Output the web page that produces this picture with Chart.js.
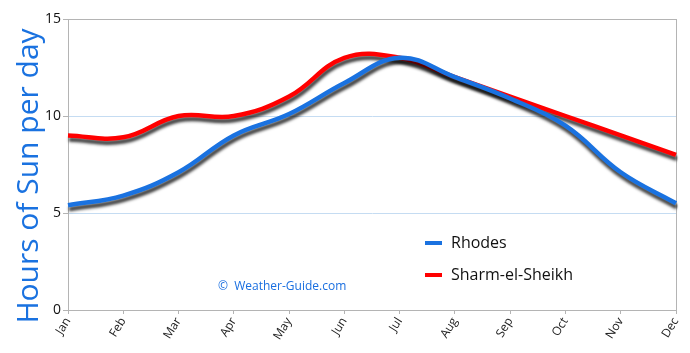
<!DOCTYPE html>
<html>
<head>
<meta charset="utf-8">
<script src="https://cdn.jsdelivr.net/npm/chart.js@4"></script>
<style>
  html, body { margin: 0; padding: 0; background: #fff; }
  #wrap { width: 690px; height: 353px; position: relative; }
</style>
</head>
<body>
<div id="wrap"><canvas id="sun-chart"></canvas></div>
<script>
// Dữ liệu
var months = ["Jan", "Feb", "Mar", "Apr", "May", "Jun", "Jul", "Aug", "Sep", "Oct", "Nov", "Dec"];
var rhodes = [5.4, 5.9, 7.1, 9.0, 10.1, 11.7, 13.0, 12.0, 10.9, 9.5, 7.1, 5.5];
var sharm = [9.0, 8.9, 10.0, 10.0, 11.0, 13.0, 13.0, 12.0, 11.0, 10.0, 9.0, 8.0];
var yTicks = [0, 5, 10, 15];
var yTitle = "Hours of Sun per day";

var fontName = "'Open Sans', sans-serif";
var axisGray = "#b4b4b4";

// khung xám quanh vùng vẽ
var framePlugin = {
  id: "frame",
  beforeDatasetsDraw: function (chart) {
    var a = chart.chartArea;
    var c = chart.ctx;
    c.save();
    c.strokeStyle = axisGray;
    c.lineWidth = 1;
    c.strokeRect(Math.round(a.left) + 0.5, Math.round(a.top) + 0.5,
      Math.round(a.right - a.left), Math.round(a.bottom - a.top));
    c.restore();
  },
};

// bóng đổ dưới mỗi đường
var shadowPlugin = {
  id: "shadow",
  beforeDatasetDraw: function (chart) {
    var c = chart.ctx;
    c.save();
    c.shadowColor = "rgba(0,0,0,0.75)";
    c.shadowBlur = 3;
    c.shadowOffsetX = 1;
    c.shadowOffsetY = 4;
  },
  afterDatasetDraw: function (chart) {
    chart.ctx.restore();
  },
};

// tiêu đề trục y, chú thích + watermark
var overlayPlugin = {
  id: "overlay",
  afterDraw: function (chart) {
    var c = chart.ctx;
    c.save();
    c.translate(29, 176);
    c.rotate(-Math.PI / 2);
    c.textAlign = "center";
    c.textBaseline = "middle";
    c.fillStyle = "#1a72e0";
    c.font = "30px " + fontName;
    c.fillText(yTitle, 0, 0);
    c.restore();

    c.save();
    c.textBaseline = "middle";
    c.font = "16px " + fontName;
    chart.data.datasets.forEach(function (ds, i) {
      var y = 243 + i * 32;
      c.fillStyle = ds.borderColor;
      c.fillRect(425, y - 2, 17, 4);
      c.fillStyle = "#111";
      c.fillText(ds.label, 451, y);
    });
    c.fillStyle = "#1a6fe0";
    c.font = "12px " + fontName;
    c.fillText("\u00A9  Weather-Guide.com", 218, 287);
    c.restore();
  },
};

var ctx = document.getElementById("sun-chart").getContext("2d");
var myChart = new Chart(ctx, {
  type: "line",
  data: {
    labels: months,
    datasets: [
      {
        label: "Rhodes",
        data: rhodes,
        borderColor: "#1a72e0",
        borderWidth: 4.5,
        tension: 0.4,
        pointRadius: 0,
        fill: false,
      },
      {
        label: "Sharm-el-Sheikh",
        data: sharm,
        borderColor: "#ff0000",
        borderWidth: 4.5,
        tension: 0.4,
        pointRadius: 0,
        fill: false,
      },
    ],
  },
  plugins: [framePlugin, shadowPlugin, overlayPlugin],
  options: {
    responsive: true,
    maintainAspectRatio: false,
    animation: false,
    layout: { padding: { top: 19, right: 14, left: 0, bottom: 0 } },
    plugins: {
      legend: { display: false },
      tooltip: { enabled: false },
    },
    scales: {
      x: {
        offset: false,
        grid: {
          display: true,
          drawOnChartArea: false,
          drawTicks: true,
          tickLength: 4,
          color: axisGray,
        },
        border: { color: axisGray },
        ticks: {
          color: "#222",
          font: { family: fontName, size: 12 },
          maxRotation: 58,
          minRotation: 58,
          autoSkip: false,
          padding: 1,
        },
        afterFit: function (scale) {
          scale.height = 43;
        },
      },
      y: {
        min: 0,
        max: 15,
        afterBuildTicks: function (scale) {
          scale.ticks = yTicks.map(function (v) { return { value: v }; });
        },
        grid: {
          color: function (c) {
            var v = c.tick && c.tick.value;
            return v === 0 || v === 15 ? axisGray : "#c5dcf2";
          },
          tickColor: axisGray,
          tickLength: 5,
        },
        border: { color: axisGray },
        ticks: {
          color: "#111",
          font: { family: fontName, size: 14 },
          padding: 2,
        },
        afterFit: function (scale) {
          scale.width = 68;
        },
      },
    },
  },
});
</script>
</body>
</html>
